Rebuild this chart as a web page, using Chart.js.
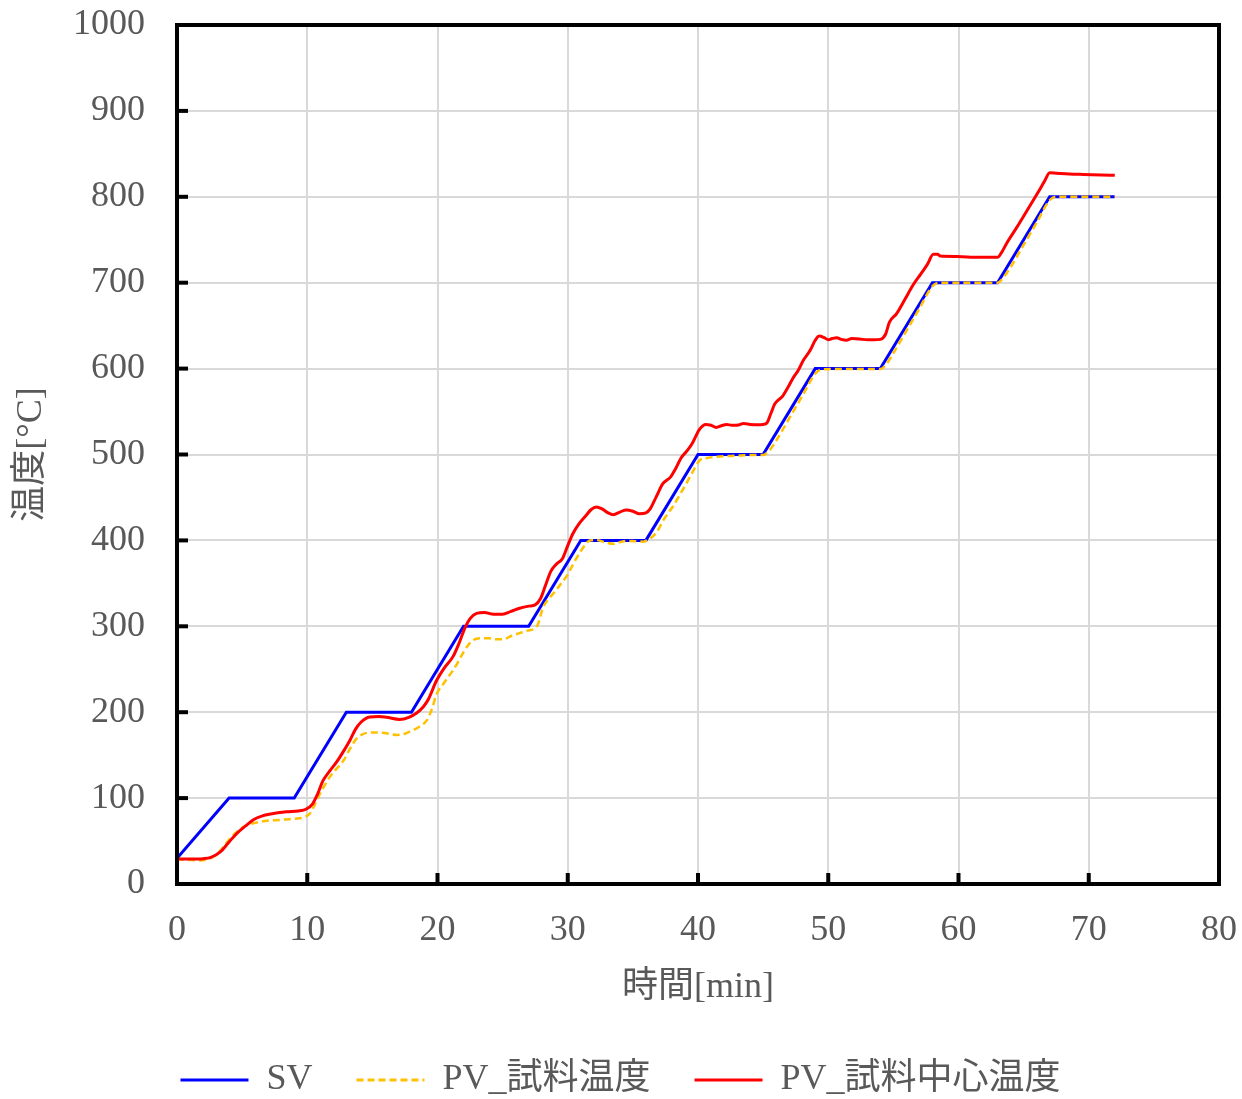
<!DOCTYPE html>
<html>
<head>
<meta charset="utf-8">
<script src="https://cdn.jsdelivr.net/npm/chart.js@4/dist/chart.umd.min.js"></script>
<style>
  html, body { margin: 0; padding: 0; background: #ffffff; }
  #wrap { width: 1242px; height: 1099px; }
</style>
</head>
<body>
<div id="wrap"><canvas id="c" width="1242" height="1099"></canvas></div>
<script>
// ---- data ----
const seriesNames = ['SV', 'PV_試料温度', 'PV_試料中心温度'];
const xTitle = '時間[min]';
const yTitle = '温度[°C]';
const xTicks = [0, 10, 20, 30, 40, 50, 60, 70, 80];
const yTicks = [0, 100, 200, 300, 400, 500, 600, 700, 800, 900, 1000];

const svTime = [0, 0, 4, 9, 13, 18, 22, 27, 31, 36, 40, 45, 49, 54, 58, 63, 67, 72];
const svTemp = [0, 30, 100, 100, 200, 200, 300, 300, 400, 400, 500, 500, 600, 600, 700, 700, 800, 800];

const pvTime = [0, 1, 1.8, 2.5, 3.0, 3.5, 4.07, 4.6, 5.1, 5.8, 6.4, 7.2, 7.8, 8.6, 9.4, 9.8, 10.2, 10.5, 10.8, 11.3,
  11.75, 12.3, 12.8, 13.3, 13.8, 14.2, 14.6, 15.2, 15.8, 16.4, 16.9, 17.5, 17.9, 18.6, 19.2, 19.6, 19.9, 20.5, 21.2, 21.6,
  22.0, 22.4, 22.75, 23.3, 23.9, 24.5, 25.05, 25.7, 26.3, 26.9, 27.4, 27.7, 28.1, 28.6, 29.1, 29.5, 29.9, 30.4, 30.9, 31.3,
  31.7, 32.2, 32.8, 33.5, 34.0, 34.5, 35.2, 35.8, 36.2, 36.8, 37.4, 38.1, 38.6, 39.1, 39.6, 40.15, 40.7, 41.2, 42.0, 42.7,
  43.5, 44.3, 45.0, 45.5, 46.0, 47.0, 48.0, 49.0, 49.5, 51.0, 54.0, 54.5, 55.0, 56.0, 57.0, 58.0, 58.5, 60.0, 63.0, 63.5,
  64.0, 65.0, 66.0, 67.0, 67.5, 72.0];
const pvTemp = [29, 28, 27.5, 29.5, 34, 42, 53, 61, 66.5, 70.5, 72.5, 74, 74.5, 75.5, 76.5, 78, 82, 90, 100, 114,
  125, 135, 144, 158, 169.5, 174, 176, 176.5, 176, 174.5, 173.5, 175, 177.5, 183, 191, 205, 220, 234, 249, 259,
  270, 279, 284, 286, 286, 285, 285, 289, 292, 295, 297, 302, 322, 333, 342, 350, 358, 372, 385, 394,
  400, 400.5, 398, 396, 398, 399.5, 399, 398.5, 401, 409, 425, 440, 453, 466, 480, 493.5, 496, 497, 498, 498.5,
  499, 499.5, 499.5, 505, 516, 542, 568, 594, 599, 599.5, 599.5, 606, 618, 644, 670, 696, 700, 700, 700, 707,
  718, 744, 770, 796, 800, 800];

const coreTime = [0, 1, 2, 2.6, 3.3, 4.0, 4.6, 5.3, 5.9, 6.5, 7.2, 8.4, 9.3, 9.9, 10.4, 10.8, 11.2, 11.7, 12.3, 12.8,
  13.3, 13.7, 14.1, 14.8, 15.5, 16.1, 17.1, 17.8, 18.4, 18.9, 19.3, 19.9, 20.5, 21.2, 21.7, 22.1, 22.5, 23.0, 23.6, 24.3,
  25.0, 25.6, 26.3, 27.0, 27.5, 27.9, 28.3, 28.7, 29.1, 29.6, 30.0, 30.4, 30.9, 31.4, 31.8, 32.2, 32.6, 33.1, 33.5, 34.0,
  34.5, 35.0, 35.5, 36.0, 36.3, 36.8, 37.3, 37.9, 38.3, 38.7, 39.2, 39.6, 40.1, 40.6, 41.0, 41.4, 41.8, 42.2, 42.6, 43.0,
  43.5, 44.0, 44.5, 45.0, 45.3, 45.6, 45.9, 46.5, 46.9, 47.3, 47.7, 48.1, 48.6, 49.0, 49.3, 49.7, 50.0, 50.3, 50.65, 51.0,
  51.4, 51.8, 52.4, 53.0, 53.5, 54.0, 54.4, 54.7, 55.25, 55.9, 56.5, 57.1, 57.6, 58.07, 58.4, 58.6, 59.9, 61.5, 63.0, 63.3,
  63.7, 64.5, 65.3, 66.1, 66.6, 67.0, 67.5, 68.5, 69.6, 71.0, 72.0];
const coreTemp = [29, 29, 29.5, 31, 37, 49, 59, 68, 75, 79, 81.5, 84, 85, 87, 93, 105, 120, 131, 143, 155,
  168, 180, 188, 194.5, 195, 194, 191.5, 194, 199, 206, 215, 236, 251, 265, 282, 298, 309, 315, 316, 314,
  314, 317, 321, 323.5, 325, 332, 348, 364, 372, 379, 394, 408, 420, 429, 436, 439, 437, 432, 430, 433,
  435.5, 434, 431, 432, 436, 451, 466, 474, 484, 496, 505, 514, 529, 535, 534, 531.5, 533.5, 535, 534, 534,
  536, 535, 534.5, 535, 537, 548, 559, 568, 578, 589, 598, 610, 621, 633, 638, 636, 633.5, 635, 636, 634,
  633, 635, 634.5, 633.5, 633.5, 634, 640, 654, 664, 681, 697, 710, 721, 733, 733, 731, 730.5, 729.5, 729.5, 735,
  746, 765, 785, 805, 818, 828, 827.5, 826.5, 826, 825.5, 825];

// ---- chart ----
const toXY = (xs, ys) => xs.map((x, i) => ({ x: x, y: ys[i] }));
const FONT = "'Liberation Serif', 'Times New Roman', 'Noto Sans CJK JP', serif";
const TXT = '#595959';
const FS = 36;

const framePlugin = {
  id: 'framePlugin',
  afterDatasetsDraw(chart) {
    const { ctx, chartArea: a, scales } = chart;
    ctx.save();
    ctx.strokeStyle = '#000000';
    ctx.lineWidth = 4;
    ctx.beginPath();
    ctx.rect(a.left, a.top, a.right - a.left, a.bottom - a.top);
    ctx.stroke();
    const len = 11;
    scales.x.ticks.forEach(t => {
      const px = scales.x.getPixelForValue(t.value);
      ctx.beginPath();
      ctx.moveTo(px, a.bottom);
      ctx.lineTo(px, a.bottom - len);
      ctx.stroke();
    });
    scales.y.ticks.forEach(t => {
      const py = scales.y.getPixelForValue(t.value);
      ctx.beginPath();
      ctx.moveTo(a.left, py);
      ctx.lineTo(a.left + len, py);
      ctx.stroke();
    });
    ctx.restore();
  }
};

new Chart(document.getElementById('c'), {
  type: 'line',
  data: {
    datasets: [
      { label: seriesNames[0], data: toXY(svTime, svTemp), borderColor: '#0000ff', backgroundColor: '#0000ff',
        borderWidth: 3, pointRadius: 0, tension: 0, order: 3 },
      { label: seriesNames[1], data: toXY(pvTime, pvTemp), borderColor: '#ffc000', backgroundColor: '#ffc000',
        borderWidth: 2.5, borderDash: [7, 4], pointRadius: 0, cubicInterpolationMode: 'monotone', order: 2 },
      { label: seriesNames[2], data: toXY(coreTime, coreTemp), borderColor: '#ff0000', backgroundColor: '#ff0000',
        borderWidth: 3, pointRadius: 0, cubicInterpolationMode: 'monotone', order: 1 }
    ]
  },
  options: {
    responsive: false,
    animation: false,
    devicePixelRatio: 1,
    layout: { padding: { left: 22, right: 23, top: 25, bottom: -9 } },
    plugins: {
      legend: {
        position: 'bottom',
        labels: {
          usePointStyle: true,
          pointStyle: 'line',
          pointStyleWidth: 68,
          boxWidth: 68,
          padding: 44,
          color: TXT,
          font: { family: FONT, size: FS },
          generateLabels: chart => chart.data.datasets.map((ds, i) => ({
            text: ds.label,
            datasetIndex: i,
            fillStyle: ds.borderColor,
            strokeStyle: ds.borderColor,
            lineWidth: 3,
            lineDash: ds.borderDash || [],
            pointStyle: 'line',
            fontColor: TXT,
            hidden: false
          })),
          sort: (a, b) => a.datasetIndex - b.datasetIndex
        }
      },
      tooltip: { enabled: false }
    },
    scales: {
      x: {
        type: 'linear',
        min: 0, max: 80,
        afterBuildTicks: s => { s.ticks = xTicks.map(v => ({ value: v })); },
        afterFit: s => { s.height = 134; s.paddingLeft = 0; s.paddingRight = 0; },
        ticks: { padding: 25, color: TXT, font: { family: FONT, size: FS }, callback: v => String(v) },
        grid: { color: '#d9d9d9', lineWidth: 2, drawTicks: false },
        border: { color: '#000000', width: 4 },
        title: { display: true, text: xTitle, color: TXT, font: { family: FONT, size: FS }, padding: { top: 0, bottom: 9 } }
      },
      y: {
        type: 'linear',
        min: 0, max: 1000,
        afterBuildTicks: s => { s.ticks = yTicks.map(v => ({ value: v })); },
        afterFit: s => { s.width = 155; s.paddingTop = 0; s.paddingBottom = 0; },
        ticks: { padding: 32, color: TXT, font: { family: FONT, size: FS }, callback: v => String(v) },
        grid: { color: '#d9d9d9', lineWidth: 2, drawTicks: false },
        border: { color: '#000000', width: 4 },
        title: { display: true, text: yTitle, color: TXT, font: { family: FONT, size: FS }, padding: { top: -12, bottom: 0 } }
      }
    }
  },
  plugins: [framePlugin]
});
</script>
</body>
</html>
